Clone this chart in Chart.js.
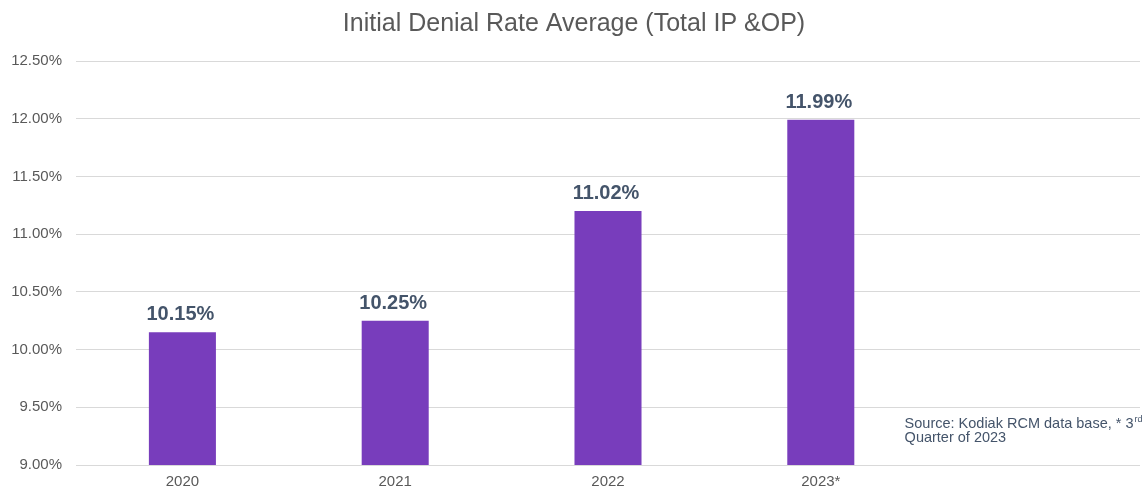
<!DOCTYPE html>
<html>
<head>
<meta charset="utf-8">
<script src="https://cdn.jsdelivr.net/npm/chart.js@4.4.0/dist/chart.umd.min.js"></script>
<style>
html,body{margin:0;padding:0;background:#fff;}
#wrap{width:1147px;height:492px;position:relative;}
</style>
</head>
<body>
<div id="wrap"><canvas id="c" width="1147" height="492"></canvas></div>
<script>
const categories = ['2020', '2021', '2022', '2023*', ''];
const values = [10.15, 10.25, 11.2, 11.99, null];
const valueLabels = ['10.15%', '10.25%', '11.02%', '11.99%', ''];
const yTicks = [9.0, 9.5, 10.0, 10.5, 11.0, 11.5, 12.0, 12.5];
const titleText = 'Initial Denial Rate Average (Total IP &OP)';
const sourceLine1 = 'Source: Kodiak RCM data base, * 3';
const sourceSup = 'rd';
const sourceLine2 = 'Quarter of 2023';

const FONT = "'Liberation Sans', Arial, sans-serif";

const labelPlugin = {
  id: 'labels',
  afterDatasetsDraw(chart) {
    const ctx = chart.ctx;
    const meta = chart.getDatasetMeta(0);
    ctx.save();
    ctx.font = "bold 20px " + FONT;
    ctx.fillStyle = '#44546A';
    ctx.textAlign = 'center';
    ctx.textBaseline = 'alphabetic';
    meta.data.forEach((bar, i) => {
      if (values[i] == null) return;
      ctx.fillText(valueLabels[i], bar.x - 2, bar.y - 12);
    });
    // source note
    const xs = chart.scales.x;
    const left = xs.getPixelForValue(4) - 129;
    ctx.font = "14.5px " + FONT;
    ctx.textAlign = 'left';
    ctx.fillStyle = '#44546A';
    ctx.fillText(sourceLine1, left, 428);
    const w = ctx.measureText(sourceLine1).width;
    ctx.font = "9px " + FONT;
    ctx.fillText(sourceSup, left + w + 1, 422);
    ctx.font = "14.5px " + FONT;
    ctx.fillText(sourceLine2, left, 442);
    ctx.restore();
  }
};

new Chart(document.getElementById('c'), {
  type: 'bar',
  data: {
    labels: categories,
    datasets: [{
      data: values,
      backgroundColor: '#783DBC',
      barPercentage: 0.315,
      categoryPercentage: 1.0
    }]
  },
  options: {
    responsive: false,
    animation: false,
    layout: { padding: { left: 8, right: 7, top: 0, bottom: 0 } },
    plugins: {
      legend: { display: false },
      tooltip: { enabled: false },
      title: {
        display: true,
        text: titleText,
        color: '#595959',
        font: { family: FONT, size: 25, weight: 'normal' },
        padding: { top: 9, bottom: 22 }
      }
    },
    scales: {
      x: {
        grid: { display: false, drawTicks: false },
        border: { display: false },
        afterFit(scale) { scale.height = 27; },
        ticks: { color: '#595959', font: { family: FONT, size: 15 }, padding: 8, maxRotation: 0 }
      },
      y: {
        min: 9,
        max: 12.5,
        afterBuildTicks(scale) { scale.ticks = yTicks.map(v => ({ value: v })); },
        afterFit(scale) { scale.width = 68; },
        grid: { color: '#D9D9D9', lineWidth: 1, drawTicks: false },
        border: { display: false },
        ticks: {
          color: '#595959',
          font: { family: FONT, size: 15 },
          padding: 14,
          callback: v => v.toFixed(2) + '%'
        }
      }
    }
  },
  plugins: [labelPlugin]
});
</script>
</body>
</html>
